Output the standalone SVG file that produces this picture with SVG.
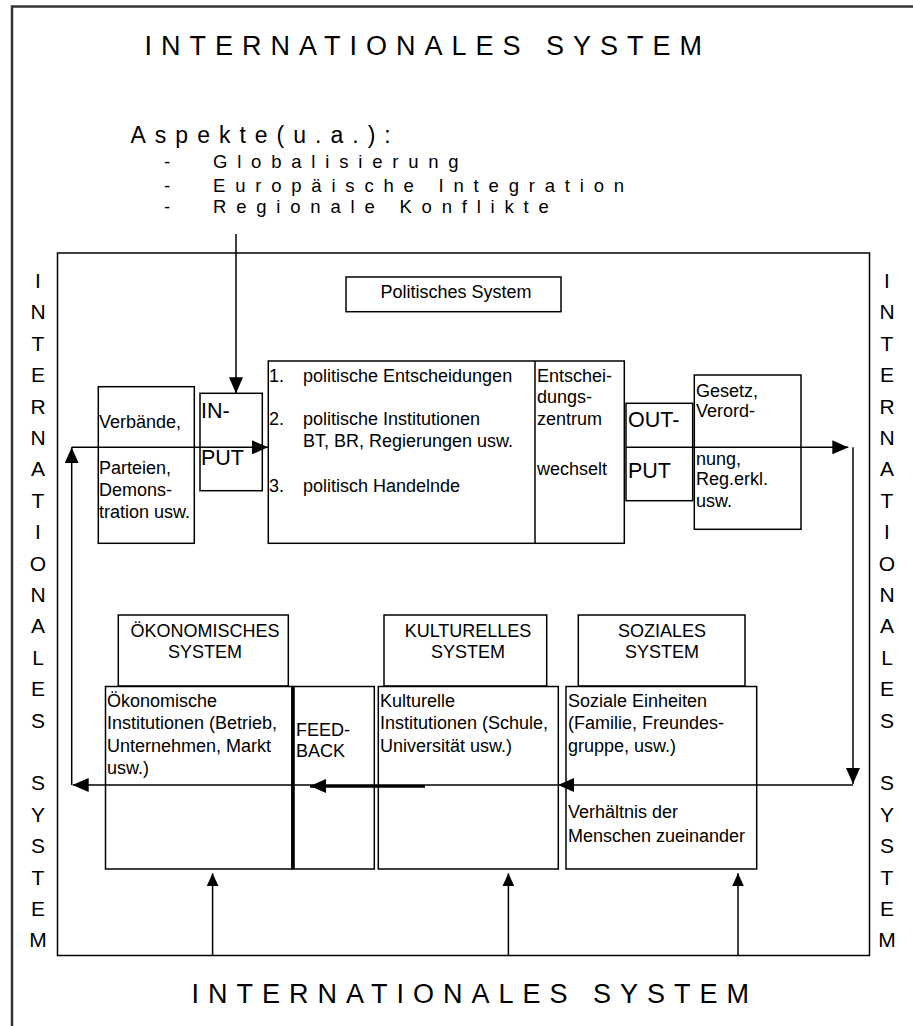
<svg xmlns="http://www.w3.org/2000/svg" width="913" height="1026" viewBox="0 0 913 1026">
<style>
.bx{fill:none;stroke:#000;stroke-width:1.5}
.ln{fill:none;stroke:#000;stroke-width:1.5}
.thk{fill:none;stroke:#000;stroke-width:3.5}
.t{font-family:"Liberation Sans",Arial,sans-serif;font-size:18px;fill:#000}
.io{font-family:"Liberation Sans",Arial,sans-serif;font-size:21.5px;fill:#000}
.hd{font-family:"Liberation Sans",Arial,sans-serif;font-size:18px;fill:#000;text-anchor:middle}
.ti{font-family:"Liberation Sans",Arial,sans-serif;font-size:27px;letter-spacing:9px;fill:#000}
.as{font-family:"Liberation Sans",Arial,sans-serif;font-size:23px;letter-spacing:9px;fill:#000}
.li{font-family:"Liberation Sans",Arial,sans-serif;font-size:18.5px;letter-spacing:9.8px;fill:#000}
.vt{font-family:"Liberation Sans",Arial,sans-serif;font-size:21px;fill:#000;text-anchor:middle}
</style>
<defs>
<marker id="ah" viewBox="0 0 16 14" refX="16" refY="7" markerWidth="16" markerHeight="14" markerUnits="userSpaceOnUse" orient="auto"><path d="M0,0 L16,7 L0,14 z" fill="#000"/></marker>
<marker id="as" viewBox="0 0 13 12" refX="13" refY="6" markerWidth="13" markerHeight="12" markerUnits="userSpaceOnUse" orient="auto"><path d="M0,0 L13,6 L0,12 z" fill="#000"/></marker>
</defs>
<rect width="913" height="1026" fill="#fff"/>

<g id="outer-frame">
<path d="M12,1030 V6.5 H920" fill="none" stroke="#333" stroke-width="2.5"/>
<text class="ti" x="144.5" y="55">INTERNATIONALES SYSTEM</text>
<text class="ti" x="191.5" y="1003">INTERNATIONALES SYSTEM</text>
<text class="vt"><tspan x="38" y="288">I</tspan><tspan x="38" y="319.4">N</tspan><tspan x="38" y="350.8">T</tspan><tspan x="38" y="382.2">E</tspan><tspan x="38" y="413.6">R</tspan><tspan x="38" y="445">N</tspan><tspan x="38" y="476.4">A</tspan><tspan x="38" y="507.8">T</tspan><tspan x="38" y="539.2">I</tspan><tspan x="38" y="570.6">O</tspan><tspan x="38" y="602">N</tspan><tspan x="38" y="633.4">A</tspan><tspan x="38" y="664.8">L</tspan><tspan x="38" y="696.2">E</tspan><tspan x="38" y="727.6">S</tspan><tspan x="38" y="790.4">S</tspan><tspan x="38" y="821.8">Y</tspan><tspan x="38" y="853.2">S</tspan><tspan x="38" y="884.6">T</tspan><tspan x="38" y="916">E</tspan><tspan x="38" y="947.4">M</tspan></text>
<text class="vt"><tspan x="887" y="288">I</tspan><tspan x="887" y="319.4">N</tspan><tspan x="887" y="350.8">T</tspan><tspan x="887" y="382.2">E</tspan><tspan x="887" y="413.6">R</tspan><tspan x="887" y="445">N</tspan><tspan x="887" y="476.4">A</tspan><tspan x="887" y="507.8">T</tspan><tspan x="887" y="539.2">I</tspan><tspan x="887" y="570.6">O</tspan><tspan x="887" y="602">N</tspan><tspan x="887" y="633.4">A</tspan><tspan x="887" y="664.8">L</tspan><tspan x="887" y="696.2">E</tspan><tspan x="887" y="727.6">S</tspan><tspan x="887" y="790.4">S</tspan><tspan x="887" y="821.8">Y</tspan><tspan x="887" y="853.2">S</tspan><tspan x="887" y="884.6">T</tspan><tspan x="887" y="916">E</tspan><tspan x="887" y="947.4">M</tspan></text>
</g>

<g id="aspekte">
<text class="as" x="130.5" y="143.3">Aspekte(u.a.):</text>
<text class="li" x="164" y="168.3">-</text>
<text class="li" x="213" y="168.3">Globalisierung</text>
<text class="li" x="164" y="191.7">-</text>
<text class="li" x="213" y="191.7">Europäische Integration</text>
<text class="li" x="164" y="213.3">-</text>
<text class="li" x="213" y="213.3">Regionale Konflikte</text>
</g>

<g id="inner-frame">
<rect class="bx" x="57.5" y="253" width="812" height="702.5" stroke-width="2"/>
</g>

<g id="politisches-system">
<rect class="bx" x="346" y="277" width="215" height="34.7"/>
<text class="hd" x="456" y="298.3">Politisches System</text>
</g>

<g id="entscheidungen">
<rect class="bx" x="268.3" y="361" width="356" height="182.3"/>
<text class="t" x="269" y="381.7">1.</text>
<text class="t" x="303" y="381.7">politische Entscheidungen</text>
<text class="t" x="269" y="425">2.</text>
<text class="t" x="303" y="425">politische Institutionen</text>
<text class="t" x="303" y="446.7">BT, BR, Regierungen usw.</text>
<text class="t" x="269" y="491.7">3.</text>
<text class="t" x="303" y="491.7">politisch Handelnde</text>
</g>

<g id="entscheidungszentrum">
<line class="ln" x1="535" y1="361" x2="535" y2="543.3"/>
<text class="t" x="537" y="381.7">Entschei-</text>
<text class="t" x="537" y="403.3">dungs-</text>
<text class="t" x="537" y="425">zentrum</text>
<text class="t" x="537" y="475">wechselt</text>
</g>

<g id="verbaende">
<rect class="bx" x="98.3" y="386.7" width="96" height="156.6"/>
<text class="t" x="99" y="428.3">Verbände,</text>
<text class="t" x="99" y="474">Parteien,</text>
<text class="t" x="99" y="496">Demons-</text>
<text class="t" x="99" y="518">tration usw.</text>
</g>

<g id="input">
<rect class="bx" x="200" y="393.3" width="62.3" height="97.4"/>
<text class="io" x="201" y="418.3">IN-</text>
<text class="io" x="201" y="465">PUT</text>
</g>

<g id="output">
<rect class="bx" x="626" y="403.3" width="66.7" height="97.4" stroke-width="2.2"/>
<text class="io" x="628" y="426.7">OUT-</text>
<text class="io" x="628" y="478.3">PUT</text>
</g>

<g id="gesetz">
<rect class="bx" x="694.3" y="375" width="106.7" height="154.3"/>
<text class="t" x="696" y="396.7">Gesetz,</text>
<text class="t" x="696" y="416.7">Verord-</text>
<text class="t" x="696" y="465">nung,</text>
<text class="t" x="696" y="485">Reg.erkl.</text>
<text class="t" x="696" y="507">usw.</text>
</g>

<g id="oekonomisches-system">
<rect class="bx" x="118.3" y="615" width="170" height="71"/>
<text class="hd" x="205" y="636.7">ÖKONOMISCHES</text>
<text class="hd" x="205" y="658.3">SYSTEM</text>
<rect class="bx" x="105.5" y="686.5" width="186.5" height="182.5"/>
<text class="t" x="107" y="706.7">Ökonomische</text>
<text class="t" x="107" y="729">Institutionen (Betrieb,</text>
<text class="t" x="107" y="752">Unternehmen, Markt</text>
<text class="t" x="107" y="774">usw.)</text>
</g>

<g id="feedback">
<rect class="bx" x="292" y="686.5" width="82.3" height="182.5"/>
<line x1="293.3" y1="686.5" x2="293.3" y2="869" stroke="#000" stroke-width="3"/>
<text class="t" x="296" y="736">FEED-</text>
<text class="t" x="296" y="756.5">BACK</text>
</g>

<g id="kulturelles-system">
<rect class="bx" x="384" y="615" width="162.7" height="71"/>
<text class="hd" x="468" y="636.7">KULTURELLES</text>
<text class="hd" x="468" y="658.3">SYSTEM</text>
<rect class="bx" x="378.3" y="686.5" width="180" height="182.5"/>
<text class="t" x="380" y="706.7">Kulturelle</text>
<text class="t" x="380" y="729">Institutionen (Schule,</text>
<text class="t" x="380" y="752">Universität usw.)</text>
</g>

<g id="soziales-system">
<rect class="bx" x="578.3" y="615" width="166.7" height="71"/>
<text class="hd" x="662" y="636.7">SOZIALES</text>
<text class="hd" x="662" y="658.3">SYSTEM</text>
<rect class="bx" x="566" y="686.5" width="190.7" height="182.5"/>
<text class="t" x="568" y="706.7">Soziale Einheiten</text>
<text class="t" x="568" y="729">(Familie, Freundes-</text>
<text class="t" x="568" y="752">gruppe, usw.)</text>
<text class="t" x="568" y="818">Verhältnis der</text>
<text class="t" x="568" y="842">Menschen zueinander</text>
</g>

<g id="connectors">
<path class="ln" d="M236,234 V393.3" marker-end="url(#ah)"/>
<path class="ln" d="M71.7,785 V447.3" marker-end="url(#ah)"/>
<path class="ln" d="M71.7,447.3 H268" marker-end="url(#ah)"/>
<path class="ln" d="M626,447.3 H848.3" marker-end="url(#ah)"/>
<path class="ln" d="M853,447.3 V784" marker-end="url(#ah)"/>
<path class="ln" d="M853,785 H558" marker-end="url(#ah)"/>
<path class="ln" d="M558,785 H425"/>
<path class="thk" d="M425,786 H310" marker-end="url(#ah)"/>
<path class="ln" d="M310,785 H72.7" marker-end="url(#ah)"/>
<path class="ln" d="M212.6,955.5 V873.3" marker-end="url(#as)"/>
<path class="ln" d="M508.4,955.5 V873.3" marker-end="url(#as)"/>
<path class="ln" d="M738,955.5 V873.3" marker-end="url(#as)"/>
</g>
</svg>
